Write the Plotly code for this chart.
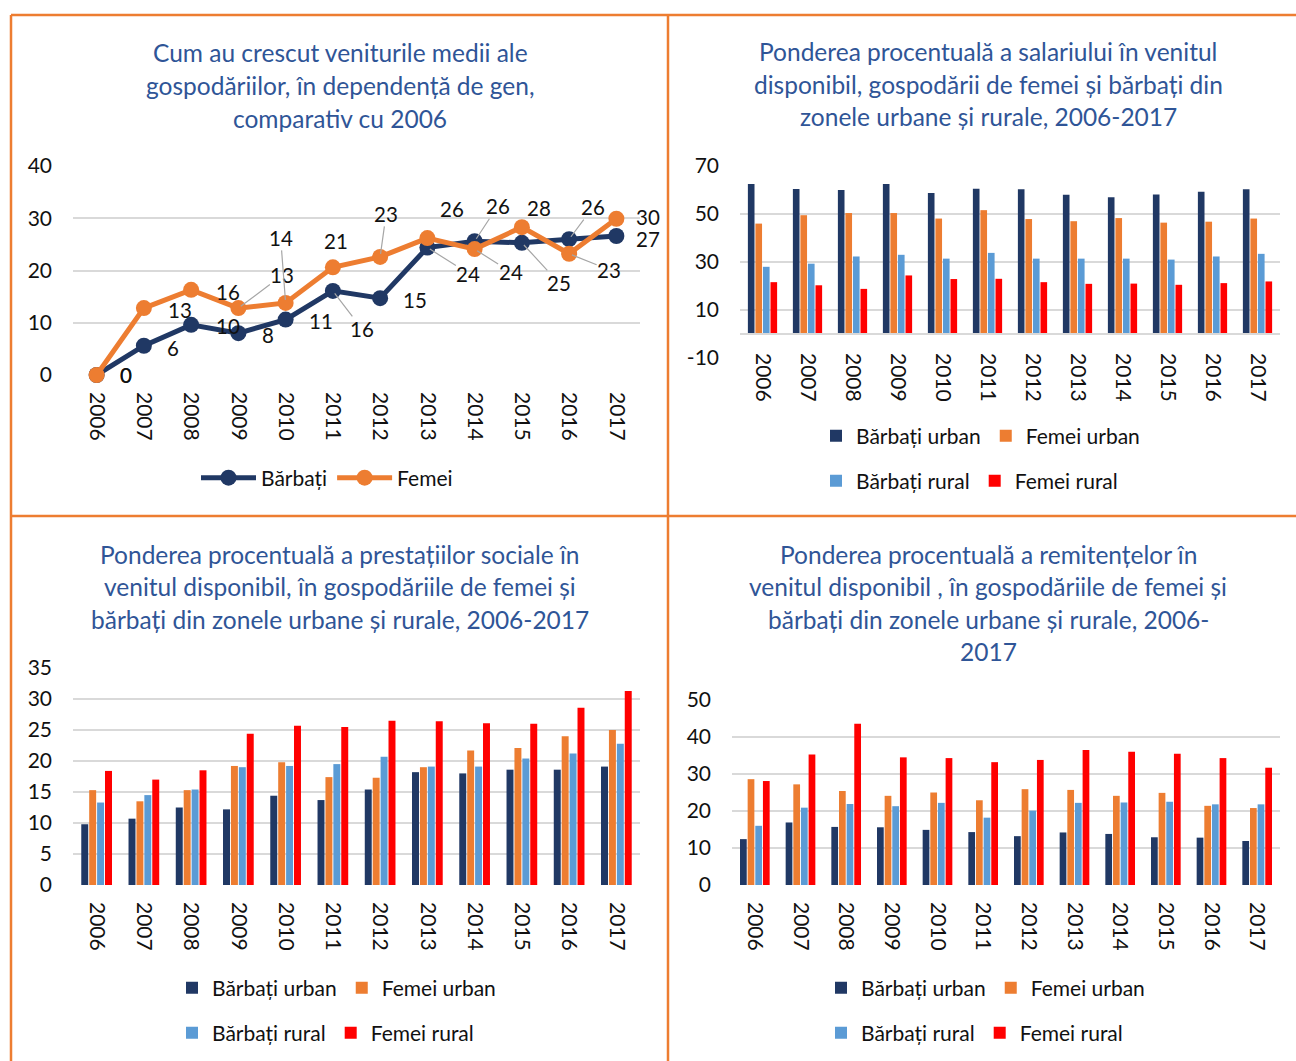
import plotly.graph_objects as go

# ---------------- data ----------------
years = [str(y) for y in range(2006, 2018)]

# Chart 1: growth of mean household income vs 2006
growth_men = [0, 5.6, 9.6, 8.0, 10.6, 16.1, 14.7, 24.4, 25.6, 25.3, 26.0, 26.6]
growth_women = [0, 12.8, 16.3, 12.8, 13.8, 20.6, 22.6, 26.2, 24.1, 28.3, 23.2, 29.9]

# Chart 2: salary share
salary_men_urban = [62.5, 60.4, 60.0, 62.5, 58.8, 60.5, 60.3, 58.0, 57.0, 58.1, 59.3, 60.3]
salary_women_urban = [46.0, 49.5, 50.4, 50.4, 48.1, 51.6, 47.9, 47.0, 48.3, 46.4, 46.8, 48.1]
salary_men_rural = [28.0, 29.3, 32.3, 33.0, 31.4, 33.8, 31.4, 31.4, 31.4, 31.0, 32.3, 33.4]
salary_women_rural = [21.6, 20.3, 18.8, 24.4, 22.9, 23.0, 21.6, 20.9, 21.0, 20.5, 21.2, 21.9]
salary_ticks = [-10, 10, 30, 50, 70]

# Chart 3: social benefits share
social_men_urban = [9.8, 10.7, 12.5, 12.2, 14.4, 13.7, 15.4, 18.2, 18.0, 18.6, 18.6, 19.1]
social_women_urban = [15.3, 13.5, 15.3, 19.2, 19.8, 17.4, 17.3, 19.0, 21.7, 22.1, 24.0, 25.0]
social_men_rural = [13.3, 14.5, 15.4, 19.0, 19.2, 19.5, 20.7, 19.1, 19.1, 20.4, 21.2, 22.8]
social_women_rural = [18.4, 17.0, 18.5, 24.4, 25.7, 25.5, 26.5, 26.4, 26.1, 26.0, 28.6, 31.3]

# Chart 4: remittances share
remit_men_urban = [12.4, 16.9, 15.7, 15.6, 14.9, 14.3, 13.2, 14.2, 13.8, 12.9, 12.8, 11.9]
remit_women_urban = [28.6, 27.2, 25.4, 24.1, 25.0, 22.9, 25.9, 25.7, 24.1, 24.9, 21.4, 20.8]
remit_men_rural = [16.0, 20.9, 21.9, 21.3, 22.2, 18.2, 20.1, 22.2, 22.3, 22.5, 21.8, 21.8]
remit_women_rural = [28.1, 35.3, 43.6, 34.5, 34.3, 33.2, 33.8, 36.5, 36.0, 35.5, 34.3, 31.7]

series_names = ["Bărbați urban", "Femei urban", "Bărbați rural", "Femei rural"]

titles = [
    ["Cum au crescut veniturile medii ale", "gospodăriilor, în dependență de gen,", "comparativ cu 2006"],
    ["Ponderea procentuală a salariului în venitul", "disponibil, gospodării de femei și bărbați din",
     "zonele urbane și rurale, 2006-2017"],
    ["Ponderea procentuală a prestațiilor sociale în", "venitul disponibil, în gospodăriile de femei și",
     "bărbați din zonele urbane și rurale, 2006-2017"],
    ["Ponderea procentuală a remitențelor în", "venitul disponibil , în gospodăriile de femei și",
     "bărbați din zonele urbane și rurale, 2006-", "2017"],
]

# ---------------- style ----------------
W, H = 1296, 1061
FONT = "Lato, 'Open Sans', sans-serif"
NAVY = "#203864"
ORANGE = "#ED7D31"
LBLUE = "#5B9BD5"
RED = "#FF0000"
GRID = "#D9D9D9"
TITLE_BLUE = "#2F5597"
TXT = "#111111"
bar_colors = [NAVY, ORANGE, LBLUE, RED]


def px(x):
    return x / W


def py(y):
    return 1 - y / H


fig = go.Figure()

# Chart 1 lines
fig.add_trace(go.Scatter(x=years, y=growth_men, name="Bărbați", mode="lines+markers",
                         line=dict(color=NAVY, width=5), marker=dict(size=16, color=NAVY),
                         xaxis="x", yaxis="y", legend="legend", cliponaxis=False))
fig.add_trace(go.Scatter(x=years, y=growth_women, name="Femei", mode="lines+markers",
                         line=dict(color=ORANGE, width=5), marker=dict(size=16, color=ORANGE),
                         xaxis="x", yaxis="y", legend="legend", cliponaxis=False))

bar_sets = [
    ([salary_men_urban, salary_women_urban, salary_men_rural, salary_women_rural], "x2", "y2", "legend2", "legend3"),
    ([social_men_urban, social_women_urban, social_men_rural, social_women_rural], "x3", "y3", "legend4", "legend5"),
    ([remit_men_urban, remit_women_urban, remit_men_rural, remit_women_rural], "x4", "y4", "legend6", "legend7"),
]
for vals, xa, ya, lg1, lg2 in bar_sets:
    for i, (name, v) in enumerate(zip(series_names, vals)):
        fig.add_trace(go.Bar(x=years, y=v, name=name, marker=dict(color=bar_colors[i], line=dict(width=0)),
                             xaxis=xa, yaxis=ya, legend=lg1 if i < 2 else lg2))

# Data labels for chart 1: (dx, dy, leader) in pixels from the point
men_lbl_pos = [(29, 0, False), (29, 2, False), (37, 1, False), (30, 2, False), (35, 1, False),
               (29, 38, True), (35, 2, False), (41, 26, True), (23, -35, True), (37, 40, True),
               (24, -32, True), (32, 3, False)]
women_lbl_pos = [(29, 0, False), (36, 2, False), (37, 2, False), (44, -33, True), (-5, -65, True),
                 (3, -26, False), (6, -43, True), (25, -29, False), (36, 23, True), (17, -19, False),
                 (40, 16, True), (32, -2, False)]

annotations = []
lblfont = dict(family=FONT, size=20.5, color=TXT)
for series, pos in ((growth_men, men_lbl_pos), (growth_women, women_lbl_pos)):
    for idx, (v, (dx, dy, leader)) in enumerate(zip(series, pos)):
        txt = f"{v:.0f}"
        if leader:
            annotations.append(dict(x=idx, y=v, xref="x", yref="y", text=txt, showarrow=True,
                                    arrowhead=0, arrowwidth=1.2, arrowcolor="#A6A6A6",
                                    ax=dx, ay=dy, standoff=3, font=lblfont, borderpad=0))
        else:
            annotations.append(dict(x=idx, y=v, xref="x", yref="y", text=txt, showarrow=False,
                                    xshift=dx, yshift=-dy, font=lblfont, borderpad=0))

# Titles (one annotation per line)
title_pos = [(340, 53), (988, 52), (340, 554), (988, 554)]
for lines, (cx, cy) in zip(titles, title_pos):
    for k, line in enumerate(lines):
        annotations.append(dict(x=px(cx), y=py(cy + k * 32.5), xref="paper", yref="paper",
                                text=line, showarrow=False, xanchor="center", yanchor="middle",
                                font=dict(family=FONT, size=24.5, color=TITLE_BLUE)))

# Panel borders
shapes = []
bw = dict(color=ORANGE, width=2.5)
for (x0, y0, x1, y1) in [(11, 15, 1296, 15), (11, 15, 11, 1061), (668, 15, 668, 1061), (11, 516, 1296, 516)]:
    shapes.append(dict(type="line", xref="paper", yref="paper", x0=px(x0), y0=py(y0),
                       x1=px(x1), y1=py(y1), line=bw))

tickfont = dict(family=FONT, size=21, color=TXT)


def xax(dom, anchor, standoff, **kw):
    d = dict(domain=[px(dom[0]), px(dom[1])], anchor=anchor, type="category", tickangle=90,
             range=[-0.5, 11.5], autorange=False,
             showgrid=False, ticks="", tickfont=tickfont, ticklabelstandoff=standoff,
             zeroline=False, automargin=False, showline=False)
    d.update(kw)
    return d


def yax(dom, anchor, rng, dtick, tick0=0, **kw):
    d = dict(domain=[py(dom[1]), py(dom[0])], anchor=anchor, range=rng, dtick=dtick, tick0=tick0,
             autorange=False, showgrid=True, gridcolor=GRID, gridwidth=1.5, zeroline=False,
             showline=False, ticks="", tickfont=tickfont, ticklabelstandoff=20, automargin=False)
    d.update(kw)
    return d


legend_common = dict(orientation="h", xanchor="left", yanchor="middle", bgcolor="rgba(0,0,0,0)",
                     font=dict(family=FONT, size=21, color=TXT), borderwidth=0)


def leg(x, y, **kw):
    d = dict(legend_common)
    d.update(x=px(x), y=py(y))
    d.update(kw)
    return d


fig.update_layout(
    template="none",
    width=W, height=H, margin=dict(l=0, r=0, t=0, b=0, autoexpand=False),
    paper_bgcolor="white", plot_bgcolor="white",
    font=dict(family=FONT, size=20, color=TXT),
    barmode="group", bargap=0.33, bargroupgap=0.12,
    xaxis=xax((73, 640), "y", 16),
    yaxis=yax((166, 375), "x", [0, 40], 10),
    xaxis2=xax((740, 1280), "free", 14, position=py(334), showline=True, linecolor=GRID, linewidth=1.5),
    yaxis2=yax((166, 358), "x2", [-10, 70], 20, tick0=-10, tickmode="array",
               tickvals=salary_ticks, ticktext=[str(t) for t in salary_ticks]),
    xaxis3=xax((73, 640), "y3", 16),
    yaxis3=yax((668, 885), "x3", [0, 35], 5),
    xaxis4=xax((732, 1280), "y4", 16),
    yaxis4=yax((700, 885), "x4", [0, 50], 10),
    legend=leg(196, 478, itemwidth=55),
    legend2=leg(816, 436),
    legend3=leg(816, 481),
    legend4=leg(172, 988),
    legend5=leg(172, 1033),
    legend6=leg(821, 988),
    legend7=leg(821, 1033),
    annotations=annotations,
    shapes=shapes,
)

fig.write_html("out.html", config={"displayModeBar": False},
               post_script="document.body.style.margin='0px';document.body.style.padding='0px';")
